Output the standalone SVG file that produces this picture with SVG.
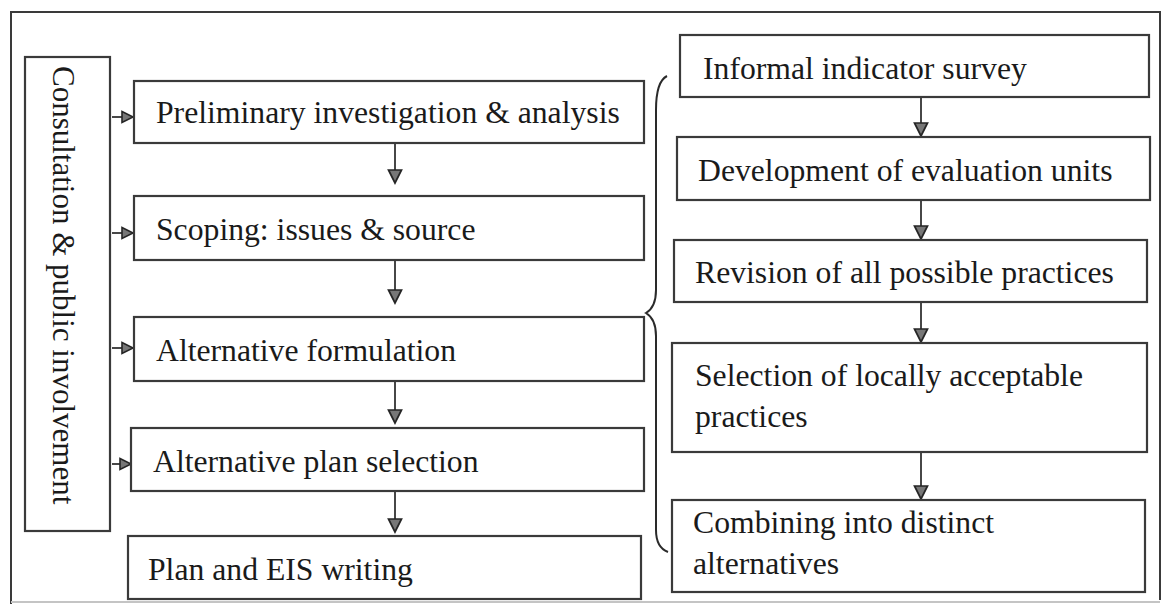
<svg xmlns="http://www.w3.org/2000/svg" width="1168" height="606" viewBox="0 0 1168 606">
  <style>
    .box { fill: #ffffff; stroke: #3a3a3a; stroke-width: 2.2; }
    .frame { fill: none; stroke: #3a3a3a; stroke-width: 2; }
    .label { font-family: "Liberation Serif", "Times New Roman", serif; font-size: 31.7px; fill: #1a1a1a; }
    .vlabel { font-family: "Liberation Serif", "Times New Roman", serif; font-size: 31px; fill: #1a1a1a; }
    .edge { fill: none; stroke: #333333; stroke-width: 1.8; }
    .brace { fill: none; stroke: #2a2a2a; stroke-width: 2; }
  </style>
  <defs>
    <marker id="tri" markerUnits="userSpaceOnUse" markerWidth="16" markerHeight="16" refX="13" refY="6.5" orient="auto" viewBox="-1 -1 16 15">
      <path d="M0,0 L13,6.5 L0,13 z" fill="#777777" stroke="#262626" stroke-width="1.7"/>
    </marker>
    <marker id="triSmall" markerUnits="userSpaceOnUse" markerWidth="14" markerHeight="14" refX="11" refY="5.5" orient="auto" viewBox="-1 -1 14 13">
      <path d="M0,0 L11,5.5 L0,11 z" fill="#777777" stroke="#262626" stroke-width="1.6"/>
    </marker>
  </defs>

  <rect width="1168" height="606" fill="#ffffff"/>

  <!-- outer frame -->
  <g id="frame">
    <path class="frame" d="M11,604 L11,12 L1160,12 L1160,600"/>
    <path d="M11,602 L1160,602" stroke="#c4c4c4" stroke-width="2" fill="none"/>
  </g>

  <!-- connectors -->
  <g id="connectors">
    <!-- consultation feeds each main step -->
    <path class="edge" d="M112,117 L133,117" marker-end="url(#triSmall)"/>
    <path class="edge" d="M112,233 L133,233" marker-end="url(#triSmall)"/>
    <path class="edge" d="M112,348 L133,348" marker-end="url(#triSmall)"/>
    <path class="edge" d="M112,464 L131,464" marker-end="url(#triSmall)"/>
    <!-- main sequence -->
    <path class="edge" d="M395,143 L395,183" marker-end="url(#tri)"/>
    <path class="edge" d="M395,260 L395,303" marker-end="url(#tri)"/>
    <path class="edge" d="M395,381 L395,423" marker-end="url(#tri)"/>
    <path class="edge" d="M395,491 L395,532" marker-end="url(#tri)"/>
    <!-- detail sequence -->
    <path class="edge" d="M921,97 L921,136" marker-end="url(#tri)"/>
    <path class="edge" d="M921,200 L921,239" marker-end="url(#tri)"/>
    <path class="edge" d="M921,302 L921,342" marker-end="url(#tri)"/>
    <path class="edge" d="M921,452 L921,499" marker-end="url(#tri)"/>
    <!-- curly brace grouping the detail steps -->
    <path class="brace" d="M667,76 C659,80 656,92 656,110 L656,290 C656,303 651,310 646,313 C651,316 656,323 656,336 L656,530 C656,542 660,549 668,552"/>
  </g>

  <!-- left column -->
  <g id="consultation">
    <rect class="box" x="25" y="57" width="85" height="474"/>
    <text class="vlabel" transform="translate(53,66) rotate(90)">Consultation &amp; public involvement</text>
  </g>
  <g id="preliminary">
    <rect class="box" x="134" y="81" width="510" height="62"/>
    <text class="label" x="156" y="123">Preliminary investigation &amp; analysis</text>
  </g>
  <g id="scoping">
    <rect class="box" x="134" y="196" width="510" height="64"/>
    <text class="label" x="156" y="240">Scoping: issues &amp; source</text>
  </g>
  <g id="alt-formulation">
    <rect class="box" x="134" y="317" width="510" height="64"/>
    <text class="label" x="156" y="361">Alternative formulation</text>
  </g>
  <g id="alt-plan-selection">
    <rect class="box" x="131" y="428" width="513" height="63"/>
    <text class="label" x="153" y="472">Alternative plan selection</text>
  </g>
  <g id="plan-eis">
    <rect class="box" x="128" y="536" width="513" height="63"/>
    <text class="label" x="148" y="580">Plan and EIS writing</text>
  </g>

  <!-- right column -->
  <g id="indicator-survey">
    <rect class="box" x="680" y="35" width="469" height="62"/>
    <text class="label" x="703" y="79">Informal indicator survey</text>
  </g>
  <g id="evaluation-units">
    <rect class="box" x="677" y="137" width="473" height="63"/>
    <text class="label" x="698" y="181">Development of evaluation units</text>
  </g>
  <g id="revision">
    <rect class="box" x="674" y="240" width="473" height="62"/>
    <text class="label" x="695" y="283">Revision of all possible practices</text>
  </g>
  <g id="selection">
    <rect class="box" x="672" y="343" width="475" height="109"/>
    <text class="label" x="695" y="386">Selection of locally acceptable</text>
    <text class="label" x="695" y="427">practices</text>
  </g>
  <g id="combining">
    <rect class="box" x="672" y="500" width="473" height="92"/>
    <text class="label" x="693" y="533">Combining into distinct</text>
    <text class="label" x="693" y="574">alternatives</text>
  </g>
</svg>
